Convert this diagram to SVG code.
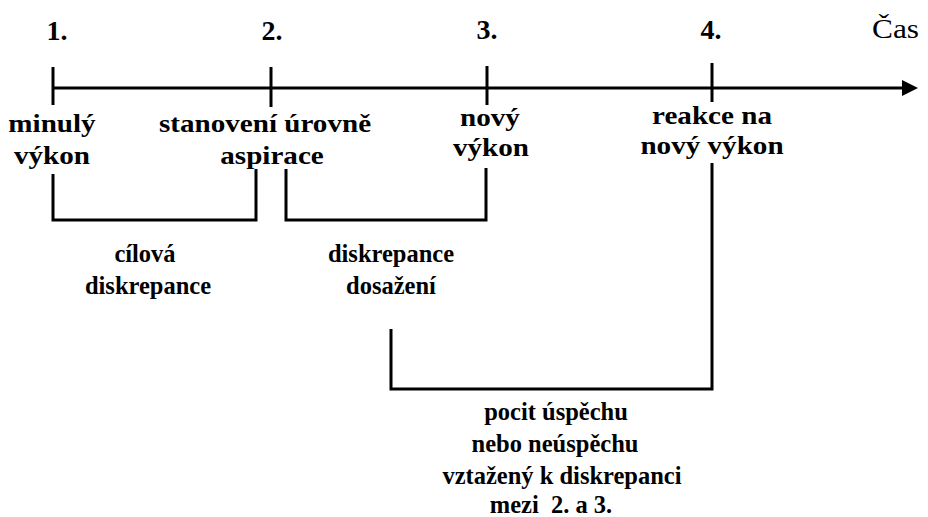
<svg xmlns="http://www.w3.org/2000/svg" width="928" height="517" viewBox="0 0 928 517">
<style>
text{font-family:'Liberation Serif','Times New Roman','DejaVu Serif',serif;fill:#000;text-anchor:middle}
.up{font-size:26px;font-weight:bold}
.lo{font-size:24.5px;font-weight:bold}
.num{font-size:28px;font-weight:bold}
.reg{font-size:28px;text-anchor:end}
.ln{fill:none;stroke:#000;stroke-width:3}
</style>
<rect width="928" height="517" fill="#fff"/>
<g id="connectors">
<line class="ln" x1="53" y1="88" x2="905" y2="88"/>
<polygon points="902,80 918,88 902,96" fill="#000"/>
<line class="ln" x1="53" y1="67" x2="53" y2="105"/>
<line class="ln" x1="271" y1="67" x2="271" y2="107"/>
<line class="ln" x1="487" y1="66" x2="487" y2="105"/>
<line class="ln" x1="712" y1="63" x2="712" y2="102"/>
<path class="ln" d="M53,174 V220 H256 V169"/>
<path class="ln" d="M286,169 V220 H486 V168"/>
<path class="ln" d="M391,329 V389 H712 V163"/>
</g>
<g id="time-label"><text class="reg" transform="translate(919,38) scale(1.12,1)">Čas</text></g>
<g id="point1">
<text class="num" x="57" y="40">1.</text>
<text class="up" transform="translate(52,132) scale(1.12,1)">minulý</text>
<text class="up" transform="translate(52,164) scale(1.12,1)">výkon</text>
</g>
<g id="point2">
<text class="num" x="272" y="40">2.</text>
<text class="up" transform="translate(265,132) scale(1.12,1)">stanovení úrovně</text>
<text class="up" transform="translate(272,164) scale(1.12,1)">aspirace</text>
</g>
<g id="point3">
<text class="num" x="487" y="39">3.</text>
<text class="up" transform="translate(490,126) scale(1.12,1)">nový</text>
<text class="up" transform="translate(491,156) scale(1.12,1)">výkon</text>
</g>
<g id="point4">
<text class="num" x="711" y="39">4.</text>
<text class="up" transform="translate(712,124) scale(1.12,1)">reakce na</text>
<text class="up" transform="translate(712,154) scale(1.12,1)">nový výkon</text>
</g>
<g id="goal-discrepancy">
<text class="lo" x="145" y="262">cílová</text>
<text class="lo" x="148" y="294">diskrepance</text>
</g>
<g id="attainment-discrepancy">
<text class="lo" x="391" y="262">diskrepance</text>
<text class="lo" x="391" y="294">dosažení</text>
</g>
<g id="success-feeling">
<text class="lo" x="556" y="420">pocit úspěchu</text>
<text class="lo" x="555" y="452">nebo neúspěchu</text>
<text class="lo" x="562" y="484">vztažený k diskrepanci</text>
<text class="lo" x="551" y="513" style="white-space:pre">mezi  2. a 3.</text>
</g>
</svg>
